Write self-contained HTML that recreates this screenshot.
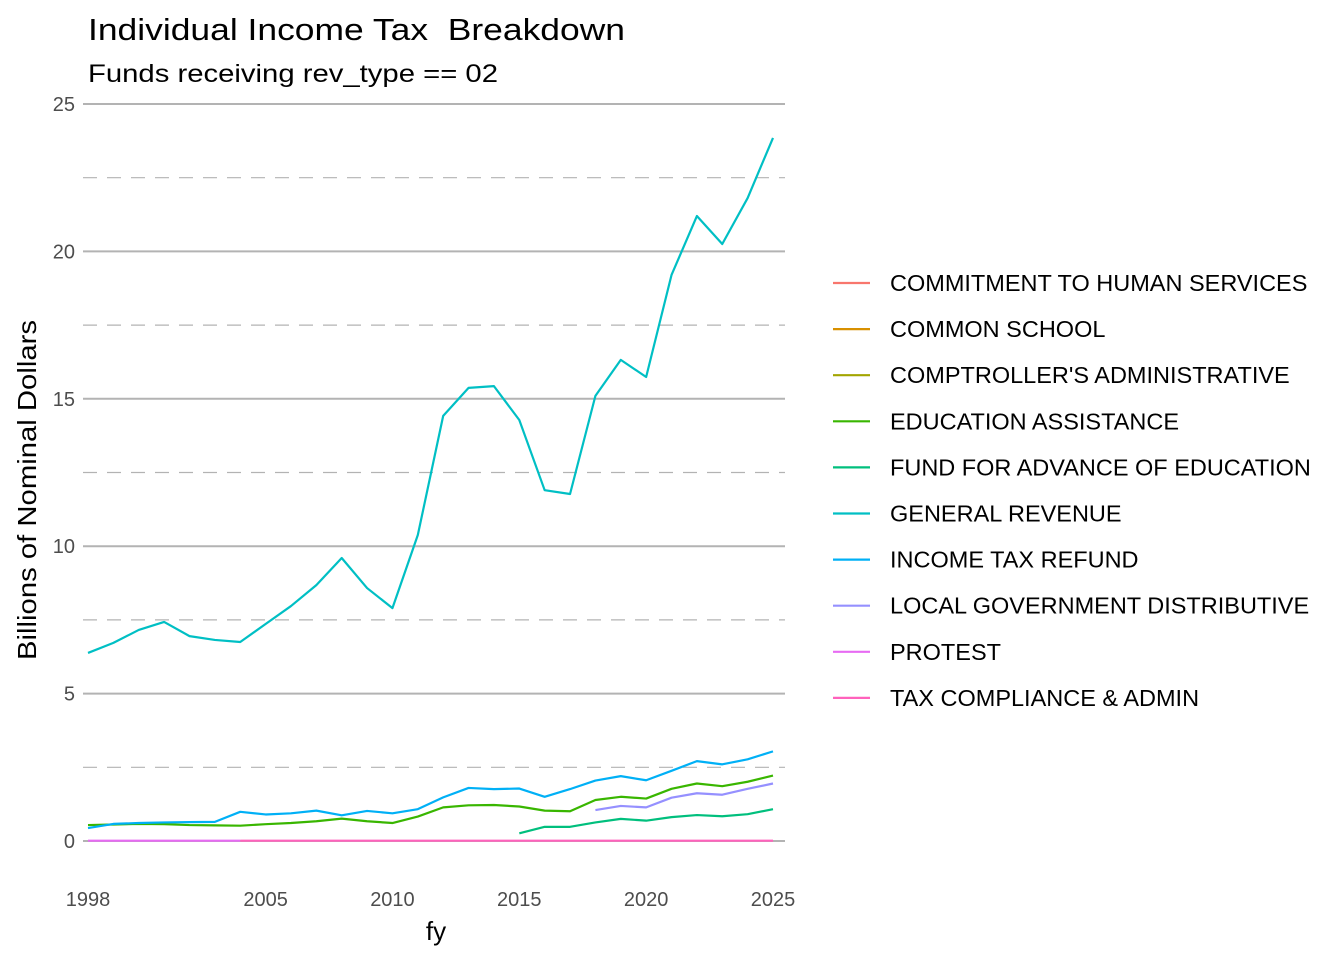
<!DOCTYPE html>
<html><head><meta charset="utf-8"><style>
body{margin:0;background:#fff;}
svg{display:block;font-family:"Liberation Sans",Arial,sans-serif;}
</style></head><body>
<svg id="chart" width="1344" height="960">
<text x="88" y="40" font-size="31" fill="#000" xml:space="preserve" textLength="537" lengthAdjust="spacingAndGlyphs">Individual Income Tax  Breakdown</text>
<text x="88" y="82" font-size="25" fill="#000" textLength="410" lengthAdjust="spacingAndGlyphs">Funds receiving rev_type == 02</text>
<g id="grid"></g>
<g id="yticks"></g>
<g id="xticks"></g>
<g id="lines"></g>
<text x="436" y="940" font-size="26" text-anchor="middle" fill="#000">fy</text>
<text transform="translate(36,490) rotate(-90)" font-size="26" text-anchor="middle" fill="#000" textLength="340" lengthAdjust="spacingAndGlyphs">Billions of Nominal Dollars</text>
<g id="legend"></g>
</svg>
<script>
const years=[];for(let y=1998;y<=2025;y++)years.push(y);
const genRev=[6.38,6.72,7.16,7.43,6.95,6.82,6.75,7.36,7.97,8.68,9.6,8.58,7.9,10.38,14.42,15.37,15.43,14.28,11.9,11.77,15.1,16.32,15.74,19.2,21.2,20.25,21.81,23.85];
const refund=[0.44,0.58,0.61,0.63,0.64,0.65,0.99,0.90,0.94,1.03,0.87,1.02,0.94,1.08,1.48,1.80,1.76,1.78,1.50,1.76,2.05,2.20,2.06,2.38,2.71,2.60,2.77,3.04];
const eduAssist=[0.54,0.56,0.58,0.57,0.54,0.53,0.52,0.57,0.61,0.67,0.76,0.67,0.61,0.83,1.14,1.21,1.22,1.17,1.03,1.01,1.39,1.50,1.44,1.77,1.95,1.86,2.01,2.22];
const localYears=[2018,2019,2020,2021,2022,2023,2024,2025];
const localGov=[1.05,1.19,1.14,1.47,1.62,1.57,1.77,1.95];
const fundYears=[2015,2016,2017,2018,2019,2020,2021,2022,2023,2024,2025];
const fundAdv=[0.26,0.48,0.48,0.63,0.75,0.69,0.81,0.88,0.84,0.91,1.08];
const protestYears=[1998,1999,2000,2001,2002,2003,2004];
const protest=[0.01,0.01,0.01,0.01,0.01,0.01,0.01];
const taxCompYears=[2004,2005,2006,2007,2008,2009,2010,2011,2012,2013,2014,2015,2016,2017,2018,2019,2020,2021,2022,2023,2024,2025];
const taxComp=[0.01,0.01,0.01,0.01,0.01,0.01,0.01,0.01,0.01,0.01,0.01,0.01,0.01,0.01,0.01,0.01,0.01,0.01,0.01,0.01,0.01,0.01];
const yTicks=[0,5,10,15,20,25];
const yMinor=[2.5,7.5,12.5,17.5,22.5];
const xTicks=[1998,2005,2010,2015,2020,2025];
const legendLabels=["COMMITMENT TO HUMAN SERVICES","COMMON SCHOOL","COMPTROLLER'S ADMINISTRATIVE","EDUCATION ASSISTANCE","FUND FOR ADVANCE OF EDUCATION","GENERAL REVENUE","INCOME TAX REFUND","LOCAL GOVERNMENT DISTRIBUTIVE","PROTEST","TAX COMPLIANCE & ADMIN"];
const colors=["#F8766D","#D89000","#A3A500","#39B600","#00BF7D","#00BFC4","#00B0F6","#9590FF","#E76BF3","#FF62BC"];

const X=v=>88+(v-1998)*(685/27);
const Y=v=>841-v*29.48;
const NS="http://www.w3.org/2000/svg";
function mk(tag,attrs,parent){const e=document.createElementNS(NS,tag);for(const k in attrs)e.setAttribute(k,attrs[k]);parent.appendChild(e);return e;}
const grid=document.getElementById('grid');
yMinor.forEach(v=>{const l=mk('line',{x1:83,x2:785,y1:Y(v),y2:Y(v),stroke:'#b3b3b3','stroke-width':1.2,'stroke-dasharray':'14,10'},grid);

});
yTicks.forEach(v=>{const l=mk('line',{x1:83,x2:785,y1:Y(v),y2:Y(v),stroke:'#b3b3b3','stroke-width':2},grid);


const t=mk('text',{x:75,y:Y(v)+7,'font-size':20,'text-anchor':'end',fill:'#4d4d4d'},document.getElementById('yticks'));
t.textContent=v;

});
xTicks.forEach(v=>{const t=mk('text',{x:X(v),y:906,'font-size':20,'text-anchor':'middle',fill:'#4d4d4d'},document.getElementById('xticks'));
t.textContent=v;

});
const lines=document.getElementById('lines');
function series(xs,vs,c,name){const p=mk('polyline',{points:xs.map((x,i)=>X(x)+','+Y(vs[i])).join(' '),fill:'none',stroke:c,'stroke-width':2.2,'stroke-linejoin':'round'},lines);

}
series(years,eduAssist,colors[3],'education-assistance-line');
series(fundYears,fundAdv,colors[4],'fund-advance-education-line');
series(years,genRev,colors[5],'general-revenue-line');
series(years,refund,colors[6],'income-tax-refund-line');
series(localYears,localGov,colors[7],'local-government-line');
series(protestYears,protest,colors[8],'protest-line');
series(taxCompYears,taxComp,colors[9],'tax-compliance-line');
const lg=document.getElementById('legend');
legendLabels.forEach((lab,i)=>{const g=mk('g',{},lg);


const y=283+i*46.1;
mk('line',{x1:833,x2:870,y1:y,y2:y,stroke:colors[i],'stroke-width':2.2},g);
const t=mk('text',{x:890,y:y+8,'font-size':23.5,fill:'#000'},g);t.textContent=lab;});
</script>
</body></html>
